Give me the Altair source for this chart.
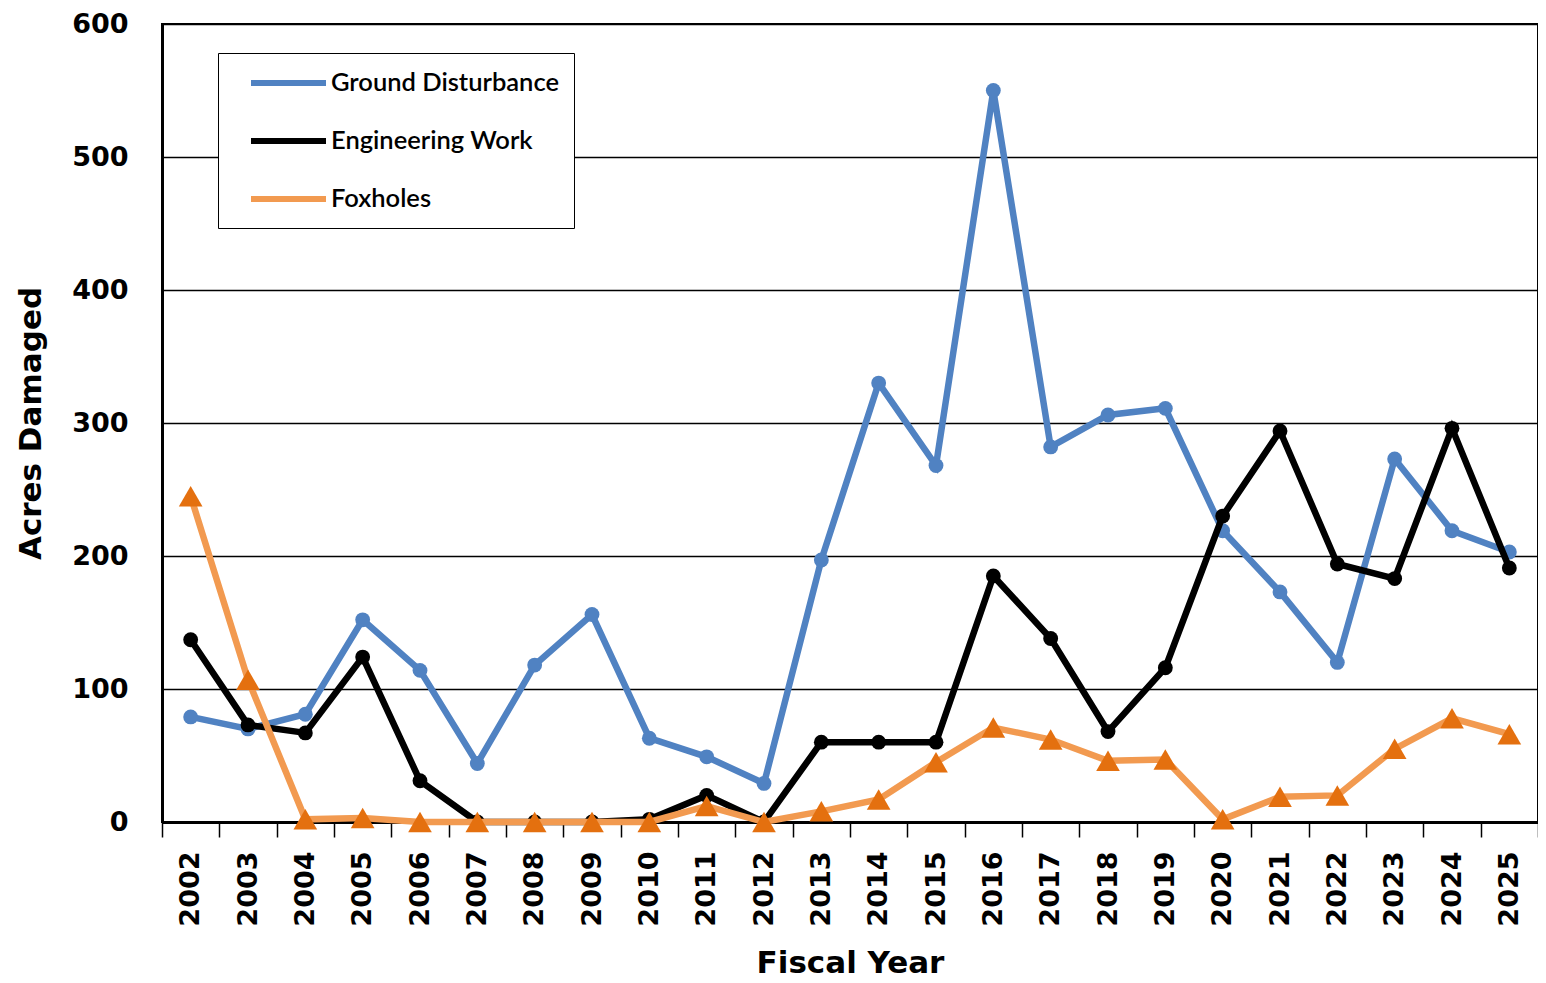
import altair as alt
import pandas as pd

years = ["2002", "2003", "2004", "2005", "2006", "2007", "2008", "2009", "2010", "2011", "2012", "2013",
         "2014", "2015", "2016", "2017", "2018", "2019", "2020", "2021", "2022", "2023", "2024", "2025"]
ground = [79, 70, 81, 152, 114, 44, 118, 156, 63, 49, 29, 197, 330, 268, 550, 282, 306, 311, 219, 173, 120, 273, 219, 203]
engineering = [137, 73, 67, 124, 31, 0, 0, 0, 2, 20, 0, 60, 60, 60, 185, 138, 68, 116, 230, 294, 194, 183, 296, 191]
foxholes = [245, 107, 2, 3, 0, 0, 0, 0, 0, 12, 0, 8, 17, 45, 71, 62, 46, 47, 2, 19, 20, 55, 78, 66]

series_names = ["Ground Disturbance", "Engineering Work", "Foxholes"]
line_colors = ["#5082C2", "#000000", "#F29A50"]
marker_colors = ["#5082C2", "#000000", "#E4700F"]
y_ticks = [0, 100, 200, 300, 400, 500, 600]

rows = []
for name, vals in zip(series_names, [ground, engineering, foxholes]):
    for yr, v in zip(years, vals):
        rows.append({"year": yr, "value": v, "series": name})
df = pd.DataFrame(rows)

FONT = "DejaVu Sans"

x_enc = alt.X(
    "year:O",
    sort=years,
    bandPosition=0.5,
    scale=alt.Scale(type="band", domain=years, paddingInner=0, paddingOuter=0),
    axis=alt.Axis(
        title="Fiscal Year", labelAngle=270, labelAlign="right", labelBaseline="middle",
        labelPadding=14, tickSize=15, tickColor="black", tickWidth=1.5, tickBand="extent",
        domainColor="black", domainWidth=3, labelFont=FONT, labelFontWeight="bold",
        labelFontSize=27, labelColor="black", labelOverlap=False, titleFont=FONT,
        titleFontWeight="bold", titleFontSize=31, titleColor="black", titlePadding=22, grid=False,
    ),
)
y_enc = alt.Y(
    "value:Q",
    scale=alt.Scale(domain=[0, 600], nice=False, zero=True),
    axis=alt.Axis(
        title="Acres Damaged", values=y_ticks, grid=True, gridColor="black", gridWidth=1.3,
        gridOpacity=1, ticks=False, tickSize=0, labelPadding=34, domainColor="black", domainWidth=3,
        labelFont=FONT, labelFontWeight="bold", labelFontSize=27, labelColor="black",
        labelFlush=False, titleFont=FONT, titleFontWeight="bold", titleFontSize=31,
        titleColor="black", titlePadding=24,
    ),
)

color_scale = alt.Scale(domain=series_names, range=line_colors)
fill_scale = alt.Scale(domain=series_names, range=marker_colors)
legend = alt.Legend(
    title=None, orient="none", legendX=56, legendY=29, direction="vertical",
    fillColor="white", strokeColor="black", padding=15, rowPadding=29,
    symbolType="M0.25,0L6.5,0", symbolSize=576, symbolStrokeWidth=6, symbolOpacity=1,
    labelOffset=68, labelFont="Lato", labelFontSize=25.5, labelFontWeight=600,
    labelColor="black", labelLimit=0, labelExpr="datum.label + '\u00a0\u00a0\u00a0'",
)

layers = []
for name in series_names:
    sub = df[df["series"] == name]
    base = alt.Chart(sub)
    line = base.mark_line(strokeWidth=6.5, interpolate="linear").encode(
        x=x_enc, y=y_enc,
        color=alt.Color("series:N", scale=color_scale, legend=legend),
    )
    if name == "Foxholes":
        pts = base.mark_point(filled=True, shape="triangle-up", size=560, opacity=1).encode(
            x=x_enc, y=y_enc,
            fill=alt.Fill("series:N", scale=fill_scale, legend=None),
        )
    else:
        pts = base.mark_point(filled=True, shape="circle", size=220, opacity=1).encode(
            x=x_enc, y=y_enc,
            fill=alt.Fill("series:N", scale=fill_scale, legend=None),
        )
    layers += [line, pts]

chart = alt.layer(*layers).properties(
    width=1376, height=798,
    autosize=alt.AutoSizeParams(type="none"),
    padding={"left": 154, "top": 16, "right": 0, "bottom": 160},
    background="white",
).configure_view(stroke="black", strokeWidth=2)

chart.save("out.html", embed_options={"renderer": "svg", "actions": False})
